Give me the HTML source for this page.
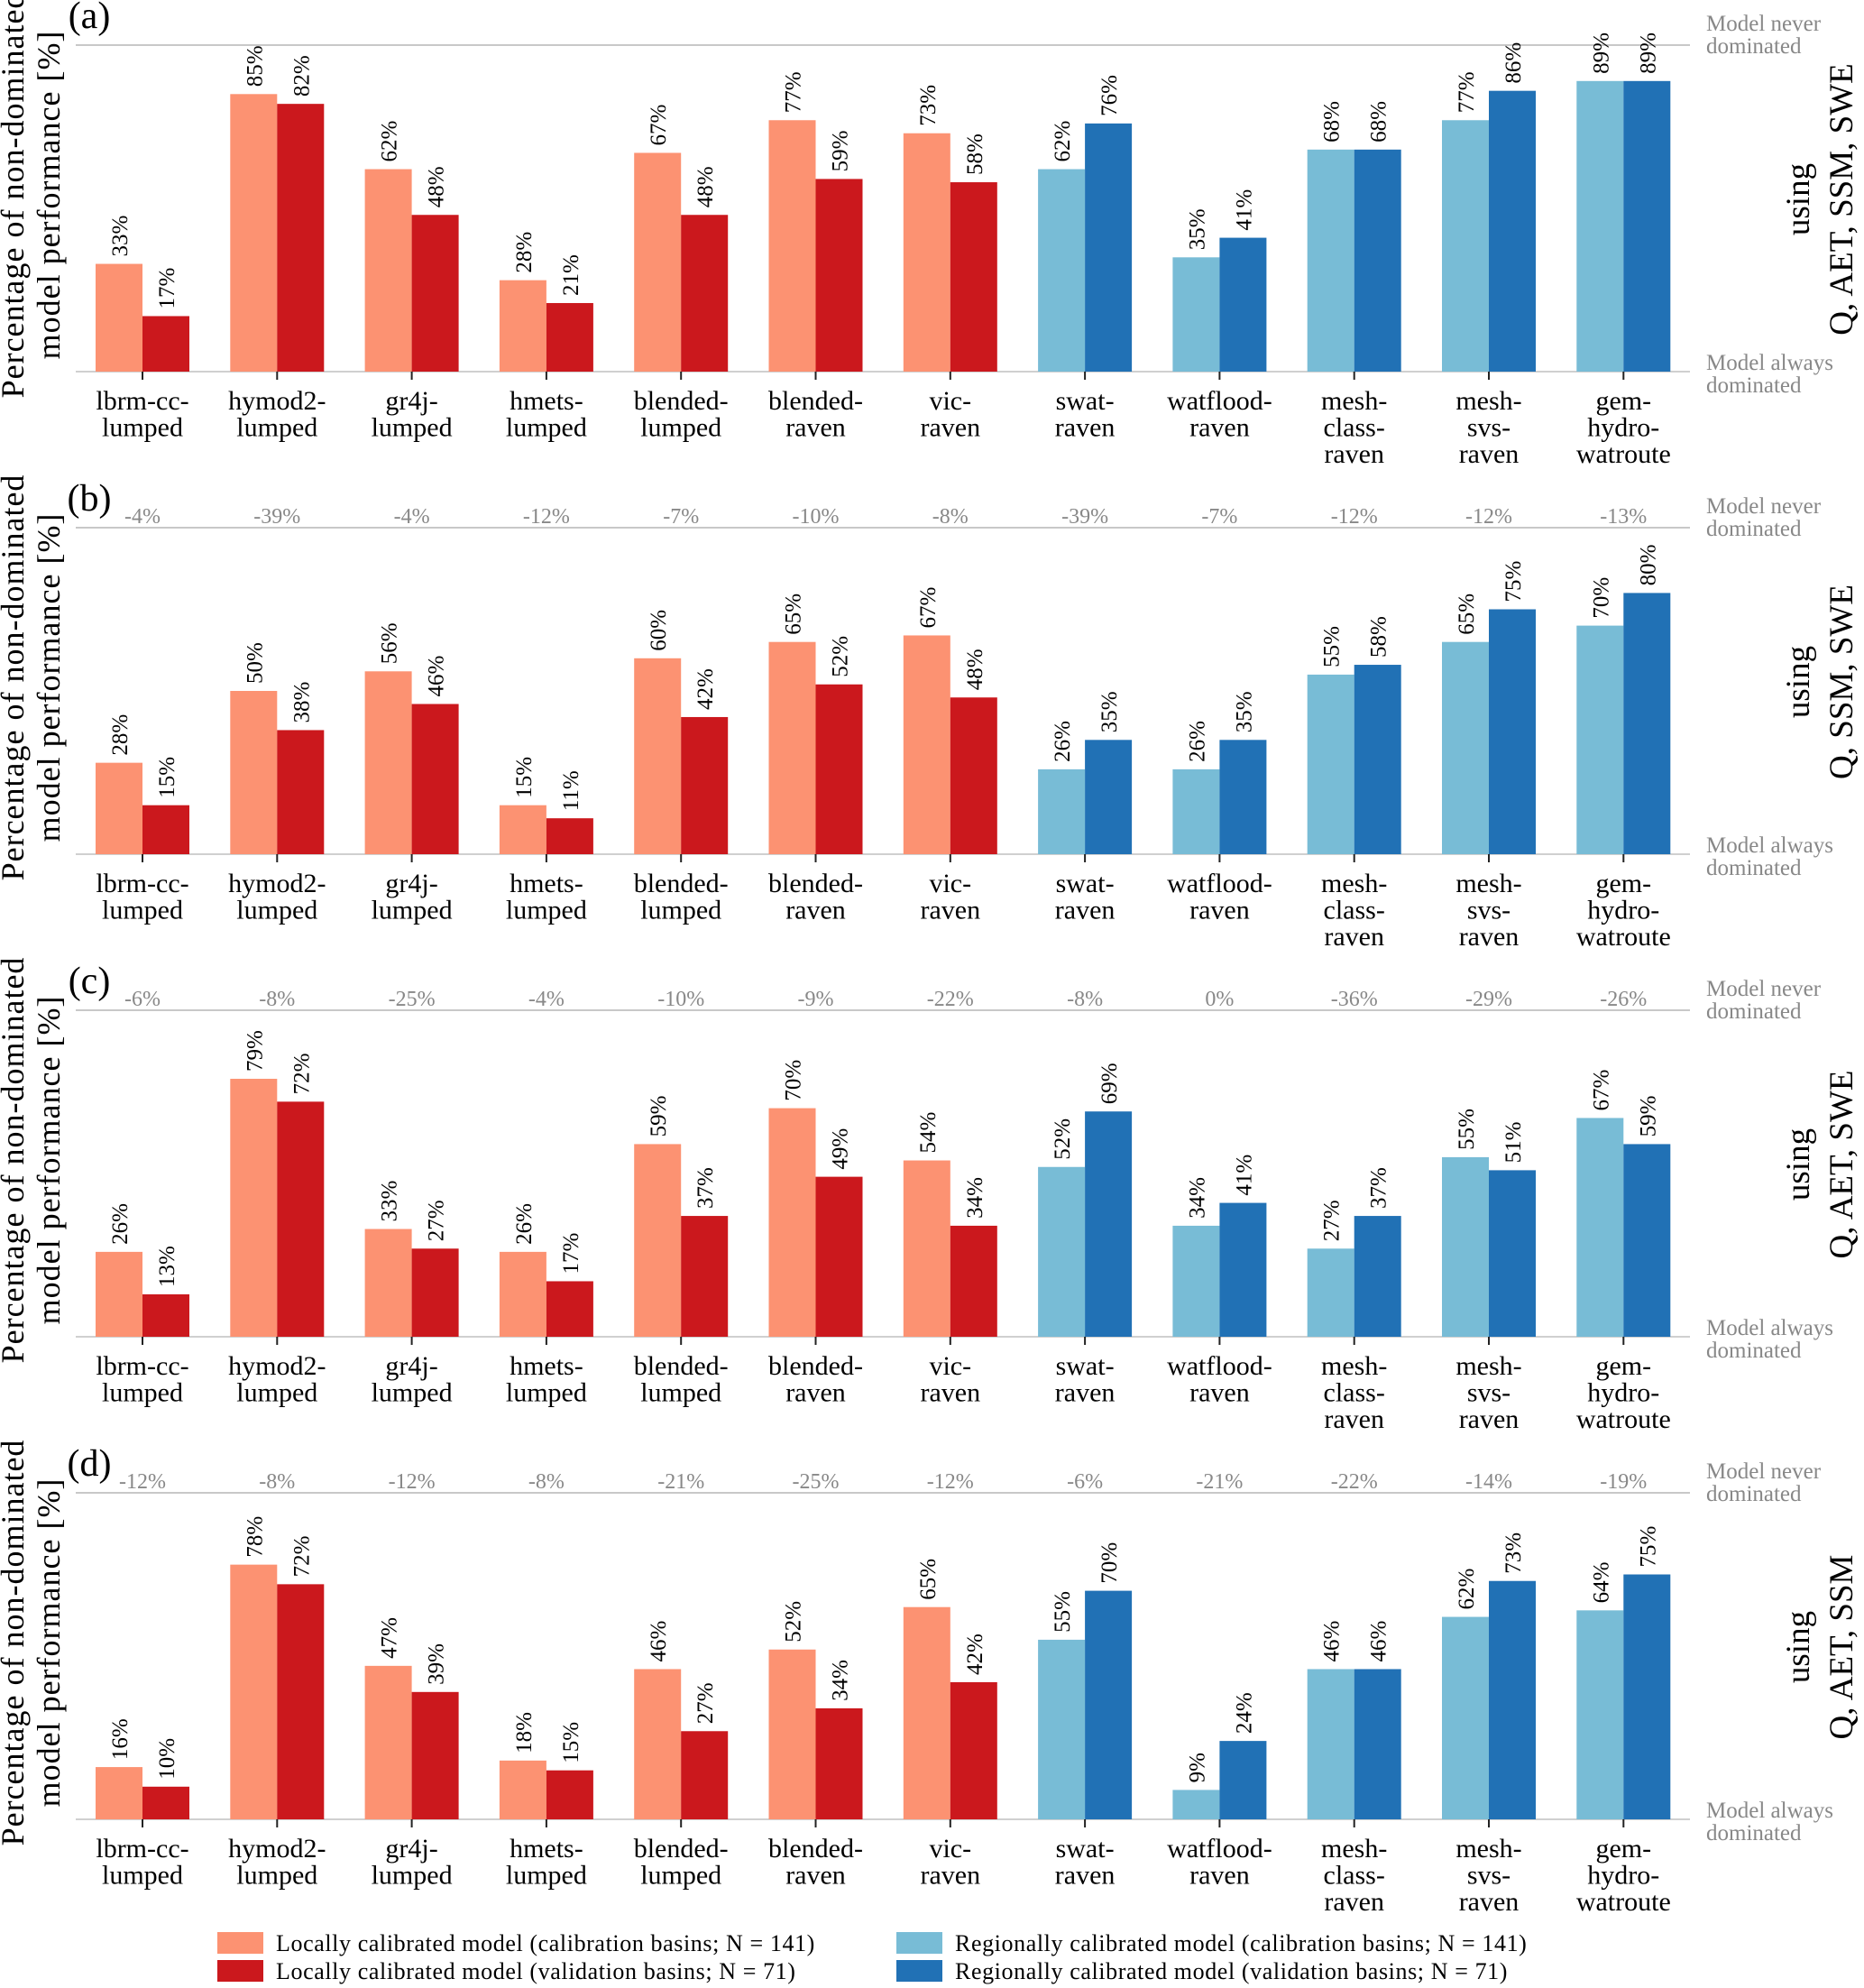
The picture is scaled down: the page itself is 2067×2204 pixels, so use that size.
<!DOCTYPE html>
<html><head><meta charset="utf-8"><style>
html,body{margin:0;padding:0;background:#fff}
svg{display:block;font-family:"Liberation Serif",serif}
</style></head><body>
<svg id="chart" width="2067" height="2204" viewBox="0 0 2067 2204" xmlns="http://www.w3.org/2000/svg"></svg>
<script>
const categories=[["lbrm-cc-","lumped"],["hymod2-","lumped"],["gr4j-","lumped"],["hmets-","lumped"],["blended-","lumped"],["blended-","raven"],["vic-","raven"],["swat-","raven"],["watflood-","raven"],["mesh-","class-","raven"],["mesh-","svs-","raven"],["gem-","hydro-","watroute"]];
const panelLetters=["(a)","(b)","(c)","(d)"];
const panelVars=["Q,  AET,  SSM,  SWE","Q,  SSM,  SWE","Q,  AET,  SWE","Q,  AET,  SSM"];
const calA=[33,85,62,28,67,77,73,62,35,68,77,89];
const valA=[17,82,48,21,48,59,58,76,41,68,86,89];
const calB=[28,50,56,15,60,65,67,26,26,55,65,70];
const valB=[15,38,46,11,42,52,48,35,35,58,75,80];
const calC=[26,79,33,26,59,70,54,52,34,27,55,67];
const valC=[13,72,27,17,37,49,34,69,41,37,51,59];
const calD=[16,78,47,18,46,52,65,55,9,46,62,64];
const valD=[10,72,39,15,27,34,42,70,24,46,73,75];
const deltaB=["-4%","-39%","-4%","-12%","-7%","-10%","-8%","-39%","-7%","-12%","-12%","-13%"];
const deltaC=["-6%","-8%","-25%","-4%","-10%","-9%","-22%","-8%","0%","-36%","-29%","-26%"];
const deltaD=["-12%","-8%","-12%","-8%","-21%","-25%","-12%","-6%","-21%","-22%","-14%","-19%"];
const legendLabels=["Locally calibrated model (calibration basins;  N = 141)","Locally calibrated model (validation basins;  N = 71)","Regionally calibrated model (calibration basins;  N = 141)","Regionally calibrated model (validation basins;  N = 71)"];

const cal=[calA,calB,calC,calD], val=[valA,valB,valC,valD], deltas=[null,deltaB,deltaC,deltaD];
const svg=document.getElementById('chart');
const NS="http://www.w3.org/2000/svg";
function mk(tag,attrs,parent,text){const e=document.createElementNS(NS,tag);for(const k in attrs)e.setAttribute(k,attrs[k]);if(text!==undefined)e.textContent=text;(parent||svg).appendChild(e);return e;}
const colors={lc:"#fc9272",lv:"#cb181d",rc:"#78bcd6",rv:"#2171b5"};
const x0=158, step=149.3, bw=52, axL=84, axR=1874;
const xScale=i=>x0+i*step;

for(let p=0;p<4;p++){
  const top=50+p*535, base=412+p*535, H=base-top;
  const yScale=v=>base-v/100*H;
  const g=mk('g',{});
  
  
  const t1=mk('line',{x1:axL,x2:axR,y1:top,y2:top,stroke:"#c8c8c8","stroke-width":2},g);
  
  const t2=mk('line',{x1:axL,x2:axR,y1:base,y2:base,stroke:"#d0d0d0","stroke-width":2},g);
  
  const lt=mk('text',{x:99,y:top-19,"font-size":42,"text-anchor":"middle"},g,panelLetters[p]);
  
  const yl=mk('text',{transform:`translate(28,${(top+base)/2-15}) rotate(-90)`,"font-size":36,"text-anchor":"middle","letter-spacing":1},g);
  
  mk('tspan',{x:0,dy:-2},yl,"Percentage of non-dominated");
  mk('tspan',{x:0,dy:40},yl,"model performance [%]");
  const n1=mk('text',{x:1892,y:top-16,"font-size":25,fill:"#888"},g);
  
  mk('tspan',{x:1892,dy:0},n1,"Model never");mk('tspan',{x:1892,dy:25},n1,"dominated");
  const n2=mk('text',{x:1892,y:base-2,"font-size":25,fill:"#888"},g);
  
  mk('tspan',{x:1892,dy:0},n2,"Model always");mk('tspan',{x:1892,dy:25},n2,"dominated");
  const rl=mk('text',{transform:`translate(2006,${(top+base)/2-10}) rotate(-90)`,"font-size":37,"text-anchor":"middle"},g);
  
  mk('tspan',{x:0,dy:0},rl,"using");mk('tspan',{x:0,dy:48},rl,panelVars[p]);
  for(let i=0;i<12;i++){
    const cx=xScale(i), regional=i>=7;
    const vals=[cal[p][i],val[p][i]];
    const cols=regional?[colors.rc,colors.rv]:[colors.lc,colors.lv];
    for(let s=0;s<2;s++){
      const bx=cx-bw+s*bw, by=yScale(vals[s]);
      const r=mk('rect',{x:bx,y:by,width:bw,height:base-by,fill:cols[s]},g);
      
      
      const vt=mk('text',{transform:`translate(${bx+bw/2+9},${by-8}) rotate(-90)`,"font-size":25},g,vals[s]+"%");
      
    }
    const tk=mk('line',{x1:cx,x2:cx,y1:base,y2:base+9,stroke:"#222","stroke-width":2},g);
    
    const cl=mk('text',{x:cx,y:base+42,"font-size":30,"text-anchor":"middle"},g);
    
    categories[i].forEach((ln,k)=>mk('tspan',{x:cx,dy:k?29.5:0},cl,ln));
    if(deltas[p]){
      const dt=mk('text',{x:cx,y:top-5,"font-size":24,fill:"#888","text-anchor":"middle"},g,deltas[p][i]);
      
    }
  }
}
const lg=mk('g',{});

const lcols=[colors.lc,colors.lv,colors.rc,colors.rv];
const lx=[241,241,994,994], ly=[2142,2173,2142,2173];
for(let k=0;k<4;k++){
  const sw=mk('rect',{x:lx[k],y:ly[k],width:51,height:24,fill:lcols[k]},lg);
  
  const lt=mk('text',{x:lx[k]+65,y:ly[k]+21,"font-size":26,"letter-spacing":0.6},lg,legendLabels[k]);
  
}
</script>
</body></html>
